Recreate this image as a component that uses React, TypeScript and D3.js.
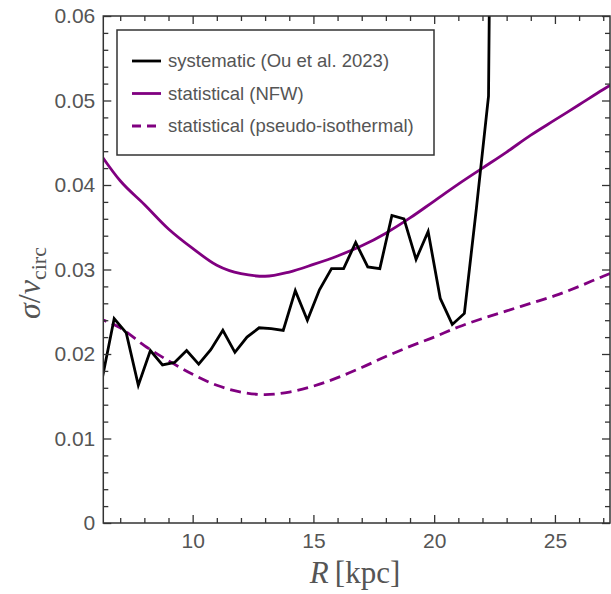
import React, { useRef, useEffect } from "react";
import * as d3 from "d3";

// systematic (Ou et al. 2023)
const sysR = [6.25, 6.75, 7.25, 7.75, 8.25, 8.75, 9.25, 9.75, 10.25, 10.75, 11.25, 11.75, 12.25, 12.75, 13.25, 13.75, 14.25, 14.75, 15.25, 15.75, 16.25, 16.75, 17.25, 17.75, 18.25, 18.75, 19.25, 19.75, 20.25, 20.75, 21.25, 21.75, 22.25, 22.75];
const sysVal = [0.0170, 0.0242, 0.0225, 0.0163, 0.0204, 0.0187, 0.0190, 0.0204, 0.0188, 0.0205, 0.0228, 0.0202, 0.0220, 0.0231, 0.0230, 0.0228, 0.0275, 0.0240, 0.0276, 0.0301, 0.0301, 0.0332, 0.0303, 0.0301, 0.0364, 0.0360, 0.0312, 0.0345, 0.0266, 0.0235, 0.0248, 0.0373, 0.0505, 0.2100];

// statistical fits
const fitR = [6, 7, 8, 9, 10, 11, 12, 13, 14, 15, 16, 17, 18, 19, 20, 21, 22, 23, 24, 25, 26, 27, 28];
const nfwVal = [0.0444, 0.0405, 0.0377, 0.0348, 0.0325, 0.0305, 0.0295, 0.0292, 0.0297, 0.0306, 0.0316, 0.0328, 0.0343, 0.0361, 0.0381, 0.0401, 0.0420, 0.0439, 0.0459, 0.0477, 0.0495, 0.0513, 0.0530];
const isoVal = [0.0243, 0.0231, 0.0210, 0.0192, 0.0176, 0.0163, 0.0155, 0.0152, 0.0155, 0.0162, 0.0172, 0.0184, 0.0197, 0.0209, 0.0220, 0.0232, 0.0242, 0.0251, 0.0260, 0.0269, 0.0280, 0.0292, 0.0303];

const xTicks = [10, 15, 20, 25];
const yTicks = [0, 0.01, 0.02, 0.03, 0.04, 0.05, 0.06];
const legendLabels = ["systematic (Ou et al. 2023)", "statistical (NFW)", "statistical (pseudo-isothermal)"];

const PURPLE = "#800080";

export default function App() {
  const svgRef = useRef<SVGSVGElement>(null);

  useEffect(() => {
    const width = 611;
    const height = 594;
    const margin = { top: 16, right: 1, bottom: 71, left: 103.3 };
    const left = margin.left;
    const right = width - margin.right;
    const top = margin.top;
    const bottom = height - margin.bottom;

    const svg = d3.select(svgRef.current).attr("width", width).attr("height", height);
    svg.selectAll("*").remove();

    const x = d3.scaleLinear().domain([6.3, 27.28]).range([left, right]);
    const y = d3.scaleLinear().domain([0, 0.06]).range([bottom, top]);

    svg.append("defs").append("clipPath").attr("id", "plot-clip")
      .append("rect")
      .attr("x", left).attr("y", top)
      .attr("width", right - left).attr("height", bottom - top);

    const plot = svg.append("g").attr("clip-path", "url(#plot-clip)");

    const straight = d3.line<number>().x((d, i) => x(sysR[i])).y(d => y(d));
    const smooth = d3.line<number>().x((d, i) => x(fitR[i])).y(d => y(d)).curve(d3.curveMonotoneX);

    plot.append("path")
      .attr("d", smooth(nfwVal))
      .attr("fill", "none").attr("stroke", PURPLE).attr("stroke-width", 2.8);

    plot.append("path")
      .attr("d", smooth(isoVal))
      .attr("fill", "none").attr("stroke", PURPLE).attr("stroke-width", 2.8)
      .attr("stroke-dasharray", "11,6");

    plot.append("path")
      .attr("d", straight(sysVal))
      .attr("fill", "none").attr("stroke", "black").attr("stroke-width", 2.8)
      .attr("stroke-linejoin", "miter");

    // Axes (ticks pointing inward on all four sides)
    const minorX = d3.range(7, 28).filter(v => !xTicks.includes(v));
    const minorY = d3.range(0.002, 0.06, 0.002).filter(v => Math.abs(v * 100 - Math.round(v * 100)) > 1e-6);
    const fmt = (d: number) => (d === 0 ? "0" : d3.format(".2f")(d));

    const axes: [any, number, number][] = [
      [d3.axisBottom(x).tickValues(xTicks).tickSize(-8).tickPadding(10).tickFormat(d3.format("d") as any), 0, bottom],
      [d3.axisBottom(x).tickValues(minorX).tickSize(-5).tickFormat(() => ""), 0, bottom],
      [d3.axisTop(x).tickValues(xTicks).tickSize(-8).tickFormat(() => ""), 0, top],
      [d3.axisTop(x).tickValues(minorX).tickSize(-5).tickFormat(() => ""), 0, top],
      [d3.axisLeft(y).tickValues(yTicks).tickSize(-8).tickPadding(8).tickFormat(fmt as any), left, 0],
      [d3.axisLeft(y).tickValues(minorY).tickSize(-5).tickFormat(() => ""), left, 0],
      [d3.axisRight(y).tickValues(yTicks).tickSize(-8).tickFormat(() => ""), right, 0],
      [d3.axisRight(y).tickValues(minorY).tickSize(-5).tickFormat(() => ""), right, 0],
    ];
    axes.forEach(([ax, tx, ty]) => {
      const g = svg.append("g").attr("transform", `translate(${tx},${ty})`).call(ax);
      g.select(".domain").remove();
      g.selectAll("line").attr("stroke", "#333").attr("stroke-width", 1.3);
      g.selectAll("text")
        .attr("fill", "#555")
        .attr("font-family", "'Liberation Sans', Arial, sans-serif")
        .attr("font-size", 21);
    });

    // Spines
    svg.append("rect")
      .attr("x", left).attr("y", top)
      .attr("width", right - left).attr("height", bottom - top)
      .attr("fill", "none").attr("stroke", "#333").attr("stroke-width", 1.5);

    // Legend
    const legend = svg.append("g");
    legend.append("rect")
      .attr("x", 117).attr("y", 30).attr("width", 317).attr("height", 125)
      .attr("fill", "white").attr("stroke", "#333").attr("stroke-width", 1.5);
    const styles = [
      { color: "black", dash: null },
      { color: PURPLE, dash: null },
      { color: PURPLE, dash: "9,6" },
    ];
    legendLabels.forEach((label, i) => {
      const ly = 61 + i * 32.5;
      const ln = legend.append("line")
        .attr("x1", 132).attr("x2", 161).attr("y1", ly).attr("y2", ly)
        .attr("stroke", styles[i].color).attr("stroke-width", 2.8);
      if (styles[i].dash) ln.attr("stroke-dasharray", styles[i].dash);
      legend.append("text")
        .attr("x", 168).attr("y", ly).attr("dy", "0.35em")
        .attr("fill", "#555")
        .attr("font-family", "'Liberation Sans', Arial, sans-serif")
        .attr("font-size", 18.5)
        .text(label);
    });

    // Axis labels
    const xl = svg.append("text")
      .attr("x", 355).attr("y", 583)
      .attr("text-anchor", "middle")
      .attr("fill", "#555")
      .attr("font-family", "'Liberation Serif', 'Times New Roman', serif")
      .attr("font-size", 31);
    xl.append("tspan").attr("font-style", "italic").text("R");
    xl.append("tspan").text("\u2009[kpc]");

    const yl = svg.append("text")
      .attr("transform", "rotate(-90)")
      .attr("x", -283).attr("y", 40)
      .attr("text-anchor", "middle")
      .attr("fill", "#555")
      .attr("font-family", "'Liberation Serif', 'Times New Roman', serif")
      .attr("font-size", 32);
    yl.append("tspan").attr("font-style", "italic").text("σ");
    yl.append("tspan").text("/");
    yl.append("tspan").attr("font-style", "italic").text("v");
    yl.append("tspan").attr("font-size", 22).attr("dy", 6).text("circ");
  }, []);

  return <svg ref={svgRef} style={{ position: "absolute", left: 0, top: 0 }}></svg>;
}
